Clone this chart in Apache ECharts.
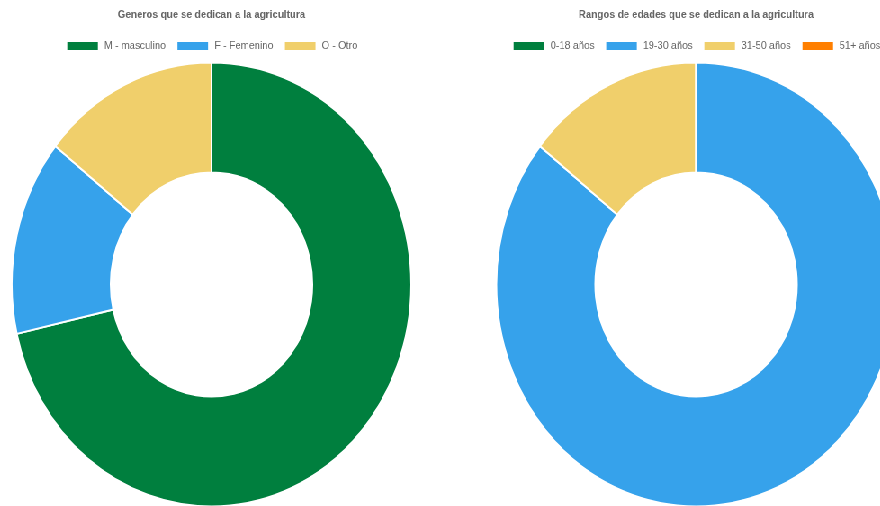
<!DOCTYPE html>
<html>
<head>
<meta charset="utf-8">
<script src="https://cdn.jsdelivr.net/npm/echarts@6/dist/echarts.min.js"></script>
<style>
  html, body { margin: 0; padding: 0; background: #fff; overflow: hidden; }
  /* the reference is slightly squeezed horizontally, so the donuts look like ellipses */
  #wrap {
    position: absolute; left: 0; top: 0;
    width: 1077px; height: 506px;
    transform: scaleX(0.9); transform-origin: 0 0;
  }
  #generoCanvas { position: absolute; left: 0; top: 0; width: 470px; height: 506px; }
  #edadCanvas { position: absolute; left: 470px; top: 0; width: 607px; height: 506px; }
</style>
</head>
<body>
<div id="wrap">
  <div id="generoCanvas"></div>
  <div id="edadCanvas"></div>
</div>
<script>
  const generoLabels = ['M - masculino', 'F - Femenino', 'O - Otro'];
  const generoValues = [5, 1, 1];
  const generoColors = ['#007F3E', '#36A2EB', '#F0CF6B'];

  const edadLabels = ['0-18 años', '19-30 años', '31-50 años', '51+ años'];
  const edadValues = [0, 6, 1, 0];
  const edadColors = ['#007F3E', '#36A2EB', '#F0CF6B', '#FF7F00'];

  function buildOption(title, labels, values, colors) {
    return {
      animation: false,
      color: colors,
      title: {
        text: title,
        left: 'center',
        top: 4,
        textStyle: {
          fontFamily: 'Liberation Sans, Arial, sans-serif',
          fontSize: 11,
          fontWeight: 'bold',
          color: '#666'
        }
      },
      legend: {
        top: 35,
        left: 'center',
        itemWidth: 36,
        itemHeight: 10,
        itemGap: 11,
        icon: 'rect',
        data: labels,
        textStyle: {
          fontFamily: 'Liberation Sans, Arial, sans-serif',
          fontSize: 11,
          color: '#666',
          padding: [0, 0, 0, 1]
        }
      },
      series: [{
        type: 'pie',
        center: ['50%', 284.5],
        radius: [112, 222],
        startAngle: 90,
        clockwise: true,
        label: { show: false },
        labelLine: { show: false },
        emphasis: { disabled: true },
        itemStyle: { borderColor: '#fff', borderWidth: 2 },
        data: labels.map(function (name, i) {
          return { name: name, value: values[i] };
        })
      }]
    };
  }

  const generoChart = echarts.init(document.getElementById('generoCanvas'));
  generoChart.setOption(buildOption('Generos que se dedican a la agricultura', generoLabels, generoValues, generoColors));

  const edadChart = echarts.init(document.getElementById('edadCanvas'));
  edadChart.setOption(buildOption('Rangos de edades que se dedican a la agricultura', edadLabels, edadValues, edadColors));
</script>
</body>
</html>
